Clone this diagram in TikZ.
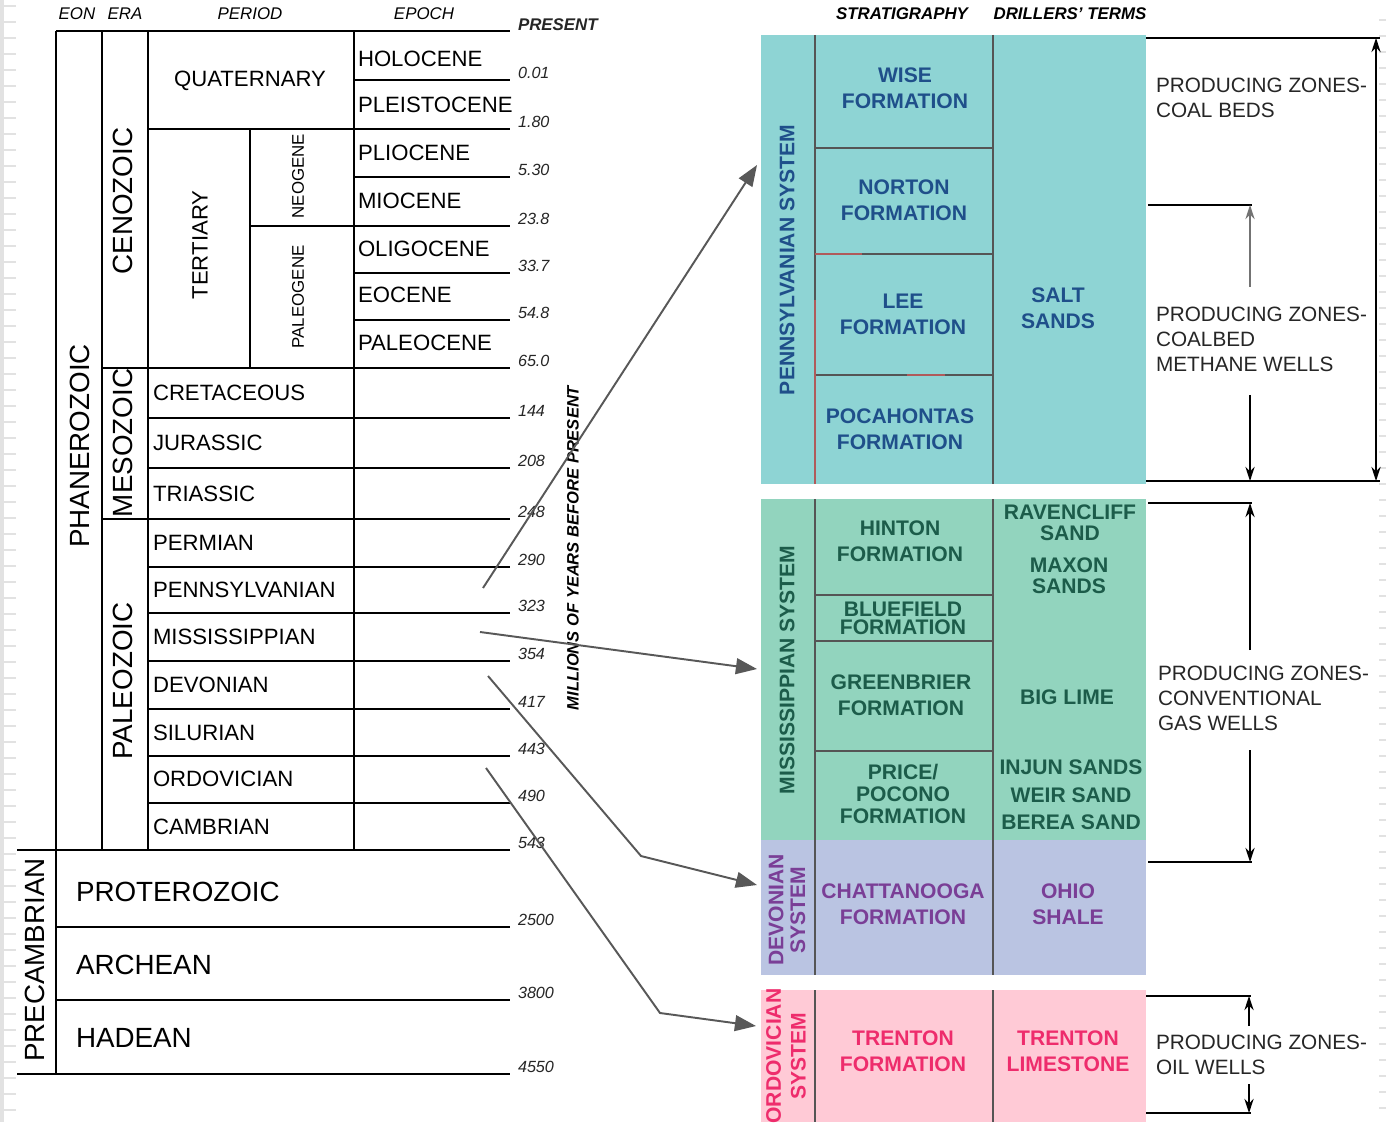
\documentclass[tikz,border=0pt]{standalone}
\usepackage{fontspec}
\setmainfont{Liberation Sans}
\usepackage{xcolor}
\usepackage{tikz}
\usetikzlibrary{positioning}
\usetikzlibrary{arrows.meta}

\definecolor{pennfill}{HTML}{8ED4D4}
\definecolor{penntext}{HTML}{1F4F8A}
\definecolor{missfill}{HTML}{92D4BE}
\definecolor{misstext}{HTML}{1C5C4A}
\definecolor{devfill}{HTML}{BAC4E2}
\definecolor{devtext}{HTML}{7A3E96}
\definecolor{ordfill}{HTML}{FFCAD6}
\definecolor{ordtext}{HTML}{EE2C6C}
\definecolor{gridline}{HTML}{555555}
\definecolor{redline}{HTML}{B05A5A}
\definecolor{arrowgray}{HTML}{585858}
\definecolor{sheet}{HTML}{E2E2E2}

\begin{document}
\begin{tikzpicture}[x=0.01cm,y=-0.01cm,
  every node/.style={inner sep=0pt,outer sep=0pt},
  rule/.style={line width=0.6pt,black},
  cell/.style={line width=0.45pt,gridline},
  head/.style={font=\fontsize{4.8}{5.5}\selectfont\itshape},
  age/.style={anchor=west,font=\fontsize{4.6}{5.5}\selectfont\itshape,text=black!85},
  epoch/.style={anchor=west,font=\fontsize{6.3}{7.5}\selectfont},
  big/.style={font=\fontsize{7.9}{9}\selectfont},
  sub/.style={rotate=90,font=\fontsize{4.8}{5.5}\selectfont},
  unit/.style={align=center,font=\fontsize{6}{7.4}\selectfont\bfseries},
  system/.style={unit,rotate=90},
  zone/.style={anchor=west,align=left,font=\fontsize{5.9}{7.1}\selectfont,text=black!85},
  pointer/.style={line width=0.55pt,arrowgray,-{Triangle[length=6pt,width=4.5pt]}},
  zonearrow/.style={line width=0.6pt,>={Stealth[length=4pt,width=2.6pt]}}]

\useasboundingbox (0,0) rectangle (1386,1122);
\fill[white] (0,0) rectangle (1386,1122);

% sheet edges
\draw[sheet,line width=1pt] (2,0) -- (2,1122);
\foreach \y in {6,22,...,1118} \draw[sheet,line width=0.8pt] (2,\y) -- (16,\y);
\foreach \y in {20,36,...,1118} \draw[sheet,line width=0.8pt] (1379,\y) -- (1386,\y);

% Headers
\node[head] (eon) at (77,14) {EON};
\node[head] (era) at (125,14) {ERA};
\node[head] (period) at (250,14) {PERIOD};
\node[head] (epochhead) at (424,14) {EPOCH};
\node[head,font=\fontsize{4.8}{5.5}\selectfont\bfseries\itshape] (strat) at (902,14) {STRATIGRAPHY};
\node[head,font=\fontsize{4.8}{5.5}\selectfont\bfseries\itshape] (drillers) at (1070,14) {DRILLERS' TERMS};

% Time scale grid
\draw[rule] (56,31) -- (510,31);
\draw[rule] (56,31) -- (56,1074);
\draw[rule] (102,31) -- (102,850);
\draw[rule] (148,31) -- (148,850);
\draw[rule] (354,31) -- (354,850);
\draw[rule] (250,129) -- (250,368);
\foreach \y in {80,177,273,320} \draw[rule] (354,\y) -- (510,\y);
\draw[rule] (148,129) -- (510,129);
\draw[rule] (250,226) -- (510,226);
\foreach \y in {368,519} \draw[rule] (102,\y) -- (510,\y);
\foreach \y in {418,468,567,613,661,709,756,803} \draw[rule] (148,\y) -- (510,\y);
\foreach \y in {927,1000} \draw[rule] (56,\y) -- (510,\y);
\foreach \y in {850,1074} \draw[rule] (17,\y) -- (510,\y);

% Ages
\node[age,font=\fontsize{4.8}{5.5}\selectfont\bfseries\itshape] (present) at (518,25) {PRESENT};
\foreach \y/\a [count=\i] in {80/0.01,129/1.80,177/5.30,226/23.8,273/33.7,320/54.8,368/65.0,
  418/144,468/208,519/248,567/290,613/323,661/354,709/417,756/443,803/490,850/543,
  927/2500,1000/3800,1074/4550}
  \node[age] (age\i) at (518,\y-7) {\a};
\node[head,rotate=90,font=\fontsize{4.7}{5.5}\selectfont\bfseries\itshape] (myears) at (573,548) {MILLIONS OF YEARS BEFORE PRESENT};

% Eons and eras
\node[big,rotate=90] (phanerozoic) at (80,446) {PHANEROZOIC};
\node[big,rotate=90] (precambrian) at (35,960) {PRECAMBRIAN};
\node[big,rotate=90] (cenozoic) at (123,201) {CENOZOIC};
\node[big,rotate=90] (mesozoic) at (123,443) {MESOZOIC};
\node[big,rotate=90] (paleozoic) at (123,681) {PALEOZOIC};
\node[big,anchor=west] (proterozoic) at (76,892) {PROTEROZOIC};
\node[big,anchor=west] (archean) at (76,965) {ARCHEAN};
\node[big,anchor=west] (hadean) at (76,1038) {HADEAN};

% Periods and epochs
\node[epoch,anchor=center] (quaternary) at (250,81) {QUATERNARY};
\node[epoch,anchor=center,rotate=90] (tertiary) at (200,245) {TERTIARY};
\node[sub] (neogene) at (298,176) {NEOGENE};
\node[sub] (paleogene) at (298,297) {PALEOGENE};
\foreach \y/\t [count=\i] in {59/HOLOCENE,105/PLEISTOCENE,153/PLIOCENE,201/MIOCENE,
  249/OLIGOCENE,295/EOCENE,343/PALEOCENE}
  \node[epoch] (epoch\i) at (358,\y) {\t};
\foreach \y/\t [count=\i] in {393/CRETACEOUS,443/JURASSIC,494/TRIASSIC,543/PERMIAN,
  590/PENNSYLVANIAN,637/MISSISSIPPIAN,685/DEVONIAN,733/SILURIAN,779/ORDOVICIAN,827/CAMBRIAN}
  \node[epoch] (period\i) at (153,\y) {\t};

% Systems
\fill[pennfill] (761,35) rectangle (1146,484);
\fill[missfill] (761,499) rectangle (1146,840);
\fill[devfill] (761,840) rectangle (1146,975);
\fill[ordfill] (761,990) rectangle (1146,1122);
\foreach \a/\b in {35/484,499/975,990/1122}
  \draw[cell] (815,\a) -- (815,\b) (993,\a) -- (993,\b);
\foreach \y in {148,254,375,595,641,751} \draw[cell] (815,\y) -- (993,\y);
\draw[cell,redline] (815,300) -- (815,484);
\draw[cell,redline] (815,254) -- (862,254);
\draw[cell,redline] (907,375) -- (945,375);

% Pennsylvanian
\node[system,text=penntext] (penn) at (787,260) {PENNSYLVANIAN SYSTEM};
\node[unit,text=penntext] (wise) at (905,88) {WISE\\FORMATION};
\node[unit,text=penntext] (norton) at (904,200) {NORTON\\FORMATION};
\node[unit,text=penntext] (lee) at (903,314) {LEE\\FORMATION};
\node[unit,text=penntext] (pocahontas) at (900,429) {POCAHONTAS\\FORMATION};
\node[unit,text=penntext] (salt) at (1058,308) {SALT\\SANDS};

% Mississippian
\node[system,text=misstext] (miss) at (787,670) {MISSISSIPPIAN SYSTEM};
\node[unit,text=misstext] (hinton) at (900,541) {HINTON\\FORMATION};
\node[unit,text=misstext,font=\fontsize{6}{5.2}\selectfont\bfseries] (bluefield) at (903,618) {BLUEFIELD\\FORMATION};
\node[unit,text=misstext] (greenbrier) at (901,695) {GREENBRIER\\FORMATION};
\node[unit,text=misstext,font=\fontsize{6}{6.3}\selectfont\bfseries] (price) at (903,794) {PRICE/\\POCONO\\FORMATION};
\node[unit,text=misstext,font=\fontsize{6}{6}\selectfont\bfseries] (ravencliff) at (1070,523) {RAVENCLIFF\\SAND};
\node[unit,text=misstext,font=\fontsize{6}{6}\selectfont\bfseries] (maxon) at (1069,576) {MAXON\\SANDS};
\node[unit,text=misstext] (biglime) at (1067,697) {BIG LIME};
\node[unit,text=misstext,font=\fontsize{6}{7.8}\selectfont\bfseries] (injun) at (1071,795) {INJUN SANDS\\WEIR SAND\\BEREA SAND};

% Devonian
\node[system,text=devtext,font=\fontsize{6}{6.2}\selectfont\bfseries] (dev) at (787,910) {DEVONIAN\\SYSTEM};
\node[unit,text=devtext] (chattanooga) at (903,904) {CHATTANOOGA\\FORMATION};
\node[unit,text=devtext] (ohio) at (1068,904) {OHIO\\SHALE};

% Ordovician
\node[system,text=ordtext,font=\fontsize{6}{7}\selectfont\bfseries] (ord) at (786,1056) {ORDOVICIAN\\SYSTEM};
\node[unit,text=ordtext] (trentonfm) at (903,1051) {TRENTON\\FORMATION};
\node[unit,text=ordtext] (trentonls) at (1068,1051) {TRENTON\\LIMESTONE};

% Producing zones
\node[zone] (coal) at (1156,98) {PRODUCING ZONES-\\COAL BEDS};
\node[zone] (cbm) at (1156,339) {PRODUCING ZONES-\\COALBED\\METHANE WELLS};
\node[zone] (gas) at (1158,698) {PRODUCING ZONES-\\CONVENTIONAL\\GAS WELLS};
\node[zone] (oil) at (1156,1055) {PRODUCING ZONES-\\OIL WELLS};

\coordinate (coal-top) at (1376,38);
\coordinate (coal-bot) at (1376,481);
\draw[rule] (1146,38) -- (1380,38);
\draw[rule] (1146,481) -- (1380,481);
\draw[zonearrow,<->] (coal-top) -- (coal-bot);

\coordinate (cbm-top) at (1250,205);
\coordinate (cbm-up) at (1250,287);
\coordinate (cbm-down) at (1250,395);
\coordinate (cbm-bot) at (1250,481);
\draw[rule] (1148,205) -- (1252,205);
\draw[zonearrow,->,black!55] (cbm-up) -- (cbm-top);
\draw[zonearrow,->] (cbm-down) -- (cbm-bot);

\coordinate (gas-top) at (1250,503);
\coordinate (gas-up) at (1250,650);
\coordinate (gas-down) at (1250,750);
\coordinate (gas-bot) at (1250,862);
\draw[rule] (1148,503) -- (1252,503);
\draw[rule] (1148,862) -- (1252,862);
\draw[zonearrow,->] (gas-up) -- (gas-top);
\draw[zonearrow,->] (gas-down) -- (gas-bot);

\coordinate (oil-top) at (1249,996);
\coordinate (oil-up) at (1249,1026);
\coordinate (oil-down) at (1249,1084);
\coordinate (oil-bot) at (1249,1113);
\draw[rule] (1146,996) -- (1251,996);
\draw[rule] (1146,1113) -- (1251,1113);
\draw[zonearrow,->] (oil-up) -- (oil-top);
\draw[zonearrow,->] (oil-down) -- (oil-bot);

% Pointers
\coordinate (penn-from) at (483,588);
\coordinate (penn-to) at (757,165);
\coordinate (miss-from) at (480,632);
\coordinate (miss-to) at (757,669);
\coordinate (dev-from) at (488,676);
\coordinate (dev-bend) at (641,856);
\coordinate (dev-to) at (757,885);
\coordinate (ord-from) at (486,768);
\coordinate (ord-bend) at (660,1013);
\coordinate (ord-to) at (756,1026);
\draw[pointer] (penn-from) -- (penn-to);
\draw[pointer] (miss-from) -- (miss-to);
\draw[pointer] (dev-from) -- (dev-bend) -- (dev-to);
\draw[pointer] (ord-from) -- (ord-bend) -- (ord-to);

\end{tikzpicture}
\end{document}
